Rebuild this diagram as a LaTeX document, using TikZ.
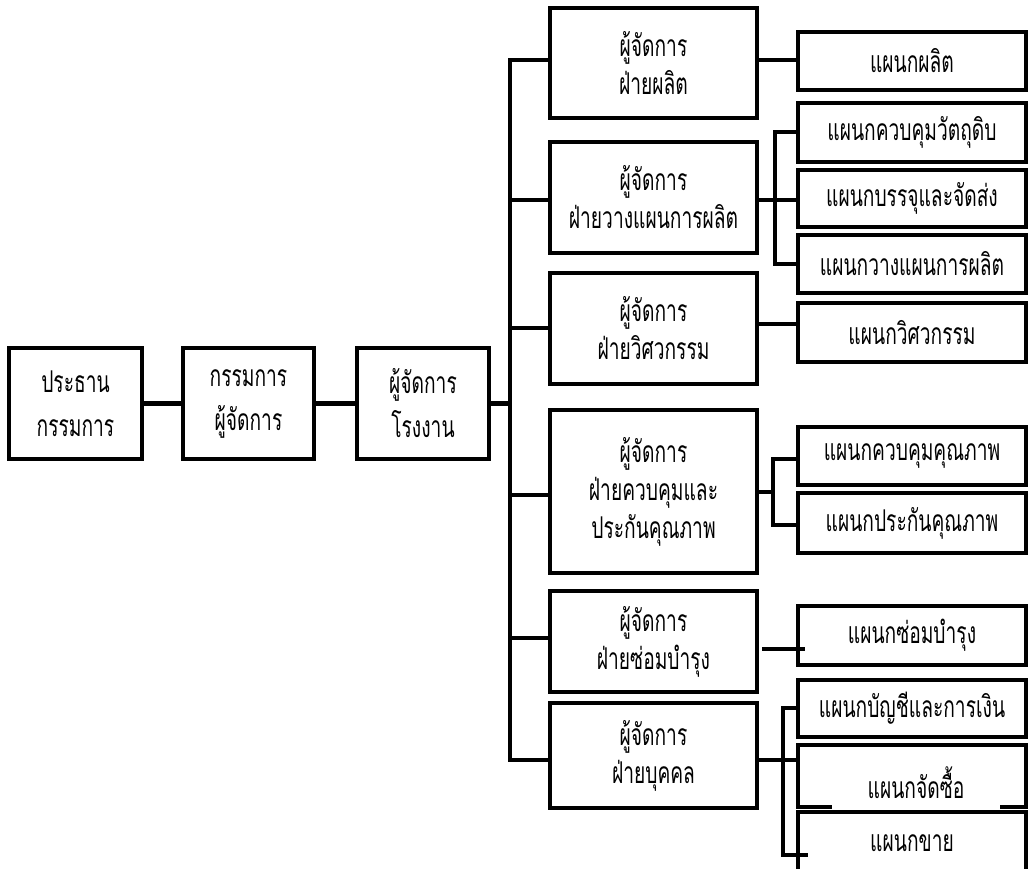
\documentclass[tikz,border=0pt]{standalone}
\usepackage{fontspec}
\newfontfamily\thai[Script=Thai,FakeStretch=0.64]{Loma}
\begin{document}
\begin{tikzpicture}[x=1pt,y=-1pt,
  box/.style={draw, line width=4pt, inner sep=0pt, align=center,
    font=\thai\fontsize{30}{38}\selectfont},
  wide/.style={font=\thai\fontsize{30}{44}\selectfont},
  link/.style={line width=4.5pt}]
\clip (0,0) rectangle (1028,868);
\fill[white] (0,0) rectangle (1028,868);
% left chain
\node[box, wide, minimum width=133, minimum height=111] (L1) at (75.5,403.5) {ประธาน\\กรรมการ};
\node[box, wide, minimum width=131, minimum height=111] (L2) at (248.5,403.5) {กรรมการ\\ผู้จัดการ};
\node[box, wide, minimum width=132, minimum height=111] (L3) at (423,403.5) {ผู้จัดการ\\โรงงาน};
% managers
\node[box, minimum width=207, minimum height=110] (M1) at (653.5,63) {ผู้จัดการ\\ฝ่ายผลิต};
\node[box, minimum width=207, minimum height=111] (M2) at (653.5,197.5) {ผู้จัดการ\\ฝ่ายวางแผนการผลิต};
\node[box, minimum width=207, minimum height=111] (M3) at (653.5,328.5) {ผู้จัดการ\\ฝ่ายวิศวกรรม};
\node[box, minimum width=207, minimum height=163] (M4) at (653.5,491.5) {ผู้จัดการ\\ฝ่ายควบคุมและ\\ประกันคุณภาพ};
\node[box, minimum width=207, minimum height=101] (M5) at (653.5,641.5) {ผู้จัดการ\\ฝ่ายซ่อมบำรุง};
\node[box, minimum width=207, minimum height=105] (M6) at (653.5,755.5) {ผู้จัดการ\\ฝ่ายบุคคล};
% departments
\node[box, minimum width=228, minimum height=58] (R1) at (912,61) {แผนกผลิต};
\node[box, minimum width=228, minimum height=59] (R2) at (912,132.5) {แผนกควบคุมวัตถุดิบ};
\node[box, minimum width=228, minimum height=57] (R3) at (912,198.5) {แผนกบรรจุและจัดส่ง};
\node[box, minimum width=228, minimum height=58] (R4) at (912,264) {แผนกวางแผนการผลิต};
\node[box, minimum width=228, minimum height=59] (R5) at (912,332.5) {แผนกวิศวกรรม};
\node[box, minimum width=228, minimum height=58] (R6) at (912,456) {แผนกควบคุมคุณภาพ};
\node[box, minimum width=228, minimum height=60] (R7) at (912,523) {แผนกประกันคุณภาพ};
\node[box, minimum width=228, minimum height=59] (R8) at (912,635.5) {แผนกซ่อมบำรุง};
\node[box, minimum width=228, minimum height=57] (R9) at (912,708.5) {แผนกบัญชีและการเงิน};
\node[box, minimum width=228, minimum height=62] (R10) at (912,776) {};
\fill[white] (832,803.5) rectangle (1000,809.6);
\node[font=\thai\fontsize{30}{38}\selectfont, anchor=base, inner sep=0pt] (R10t) at (916,798) {แผนกจัดซื้อ};
\node[box, minimum width=228, minimum height=62] (R11) at (912,843) {แผนกขาย};
% main chain links
\draw[link] (L1.east) -- (L2.west);
\draw[link] (L2.east) -- (L3.west);
\coordinate (bt) at (510,60);
\coordinate (bb) at (510,760);
\draw[link] (L3.east) -- (L3.east -| bt);
\draw[link] (M1.west |- bt) -- (bt) -- (bb) -- (M6.west |- bb);
\draw[link] (M2.west |- 0,200) -- (bt |- 0,200);
\draw[link] (M3.west |- 0,328) -- (bt |- 0,328);
\draw[link] (M4.west |- 0,495) -- (bt |- 0,495);
\draw[link] (M5.west |- 0,638) -- (bt |- 0,638);
% department links
\draw[link] (M1.east |- 0,60) -- (R1.west |- 0,60);
\draw[link] (M2.east |- 0,200) -- (R3.west |- 0,200);
\draw[link] (R2.west |- 0,132) -| (775,264) -- (R4.west |- 0,264);
\draw[link] (M3.east |- 0,324) -- (R5.west |- 0,324);
\draw[link] (M4.east |- 0,492) -- (773,492);
\draw[link] (R6.west |- 0,459) -| (773,525) -- (R7.west |- 0,525);
\coordinate (m5s) at (762,649);
\coordinate (m5e) at (805,649);
\draw[link] (m5s) -- (m5e);
\draw[link] (M6.east |- 0,760) -- (R10.west |- 0,760);
\coordinate (m6e) at (808,855);
\draw[link] (R9.west |- 0,708) -| (783,855) -- (m6e);
\end{tikzpicture}
\end{document}
